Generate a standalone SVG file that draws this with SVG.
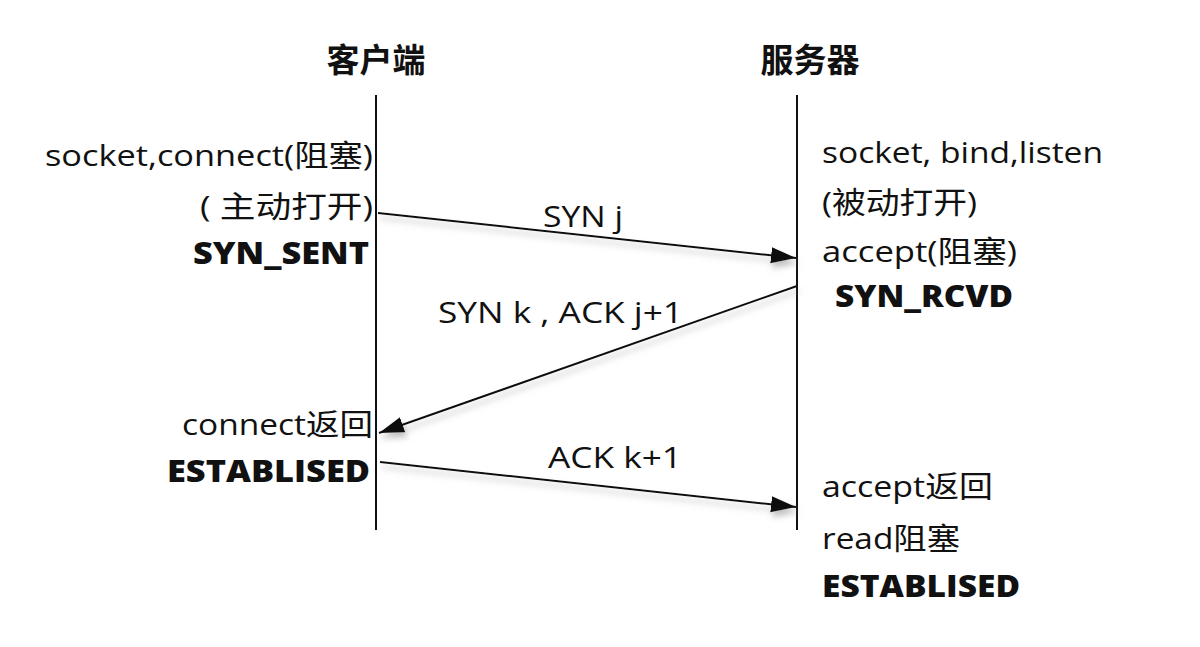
<svg xmlns="http://www.w3.org/2000/svg" width="1200" height="647" viewBox="0 0 1200 647">
<style>
.t{font-family:"Open Sans","Noto Sans CJK SC",sans-serif;font-size:30px;fill:#111}
.b{font-weight:800}
.h{font-family:"Noto Sans CJK SC",sans-serif;font-size:33px;font-weight:bold;fill:#111}
.life{stroke:#111;stroke-width:2;fill:none}
.msg{stroke:#111;stroke-width:2;fill:none;marker-end:url(#ah)}
</style>
<defs>
<marker id="ah" markerUnits="userSpaceOnUse" markerWidth="26" markerHeight="18" refX="25" refY="9" orient="auto" viewBox="0 0 26 18">
<path d="M0,1 L25,9 L0,17 Z" fill="#111"/>
</marker>
<filter id="sh" x="-10%" y="-50%" width="120%" height="200%">
<feDropShadow dx="2" dy="5" stdDeviation="3" flood-color="#888" flood-opacity="0.55"/>
</filter>
</defs>
<rect width="1200" height="647" fill="#fff"/>
<g id="client">
<text class="h" x="376" y="72" text-anchor="middle">客户端</text>
<line class="life" x1="376" y1="95" x2="376" y2="530"/>
<text class="t" x="45" y="166" textLength="328" lengthAdjust="spacingAndGlyphs">socket,connect(阻塞)</text>
<text class="t" x="200" y="217" textLength="173" lengthAdjust="spacingAndGlyphs">( 主动打开)</text>
<text class="t b" x="193" y="264" textLength="176" lengthAdjust="spacingAndGlyphs">SYN_SENT</text>
<text class="t" x="182" y="435" textLength="191" lengthAdjust="spacingAndGlyphs">connect返回</text>
<text class="t b" x="167" y="482" textLength="203" lengthAdjust="spacingAndGlyphs">ESTABLISED</text>
</g>
<g id="server">
<text class="h" x="810" y="72" text-anchor="middle">服务器</text>
<line class="life" x1="797" y1="95" x2="797" y2="530"/>
<text class="t" x="822" y="163" textLength="281" lengthAdjust="spacingAndGlyphs">socket, bind,listen</text>
<text class="t" x="822" y="213" textLength="155" lengthAdjust="spacingAndGlyphs">(被动打开)</text>
<text class="t" x="822" y="262" textLength="195" lengthAdjust="spacingAndGlyphs">accept(阻塞)</text>
<text class="t b" x="835" y="307" textLength="178" lengthAdjust="spacingAndGlyphs">SYN_RCVD</text>
<text class="t" x="822" y="497" textLength="171" lengthAdjust="spacingAndGlyphs">accept返回</text>
<text class="t" x="822" y="549" textLength="138" lengthAdjust="spacingAndGlyphs">read阻塞</text>
<text class="t b" x="822" y="597" textLength="198" lengthAdjust="spacingAndGlyphs">ESTABLISED</text>
</g>
<g id="connectors" filter="url(#sh)">
<line class="msg" x1="378" y1="213" x2="796" y2="258"/>
<line class="msg" x1="797" y1="286" x2="379" y2="433"/>
<line class="msg" x1="380" y1="462" x2="796" y2="507"/>
</g>
<g id="labels">
<text class="t" x="543" y="227" textLength="80" lengthAdjust="spacingAndGlyphs">SYN j</text>
<text class="t" x="438" y="323" textLength="245" lengthAdjust="spacingAndGlyphs">SYN k , ACK j+1</text>
<text class="t" x="548" y="468" textLength="134" lengthAdjust="spacingAndGlyphs">ACK k+1</text>
</g>
</svg>
